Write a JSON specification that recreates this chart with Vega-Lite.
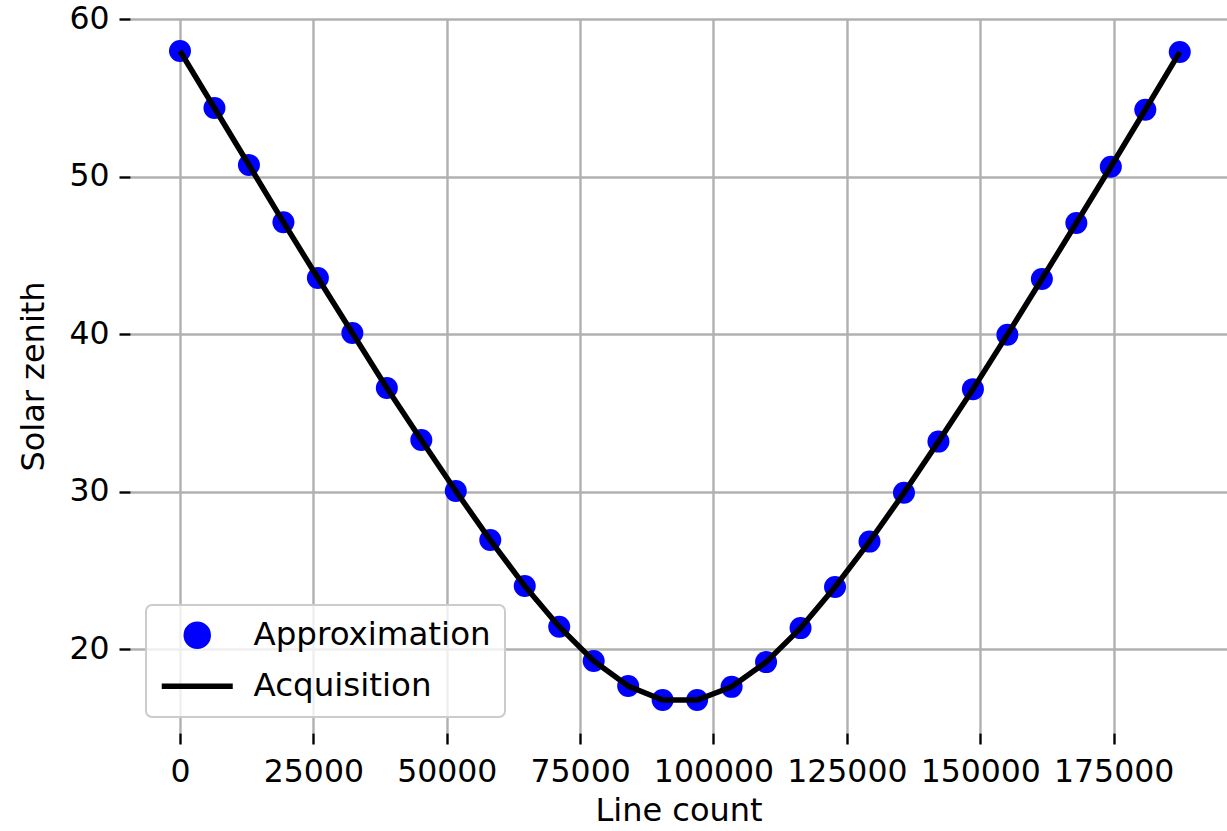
{
  "$schema": "https://vega.github.io/schema/vega-lite/v6.json",
  "width": 1097,
  "height": 714,
  "autosize": {"type": "none"},
  "padding": {"left": 130, "top": 19, "right": 0, "bottom": 98},
  "background": "white",
  "config": {
    "view": {"stroke": null},
    "font": "DejaVu Sans",
    "axis": {
      "domain": false,
      "grid": true,
      "gridColor": "#b0b0b0",
      "gridWidth": 2.4,
      "tickColor": "black",
      "tickWidth": 2.4,
      "tickSize": 11,
      "labelFont": "DejaVu Sans",
      "labelFontSize": 31.5,
      "labelColor": "black",
      "titleFont": "DejaVu Sans",
      "titleFontSize": 32,
      "titleFontWeight": "normal",
      "titleColor": "black"
    },
    "legend": {
      "title": null,
      "orient": "bottom-left",
      "offset": 16,
      "padding": 14,
      "fillColor": "rgba(255,255,255,0.8)",
      "strokeColor": "#cccccc",
      "cornerRadius": 6,
      "labelFont": "DejaVu Sans",
      "labelFontSize": 32.5,
      "labelColor": "black",
      "labelLimit": 500,
      "symbolSize": 484,
      "symbolOffset": 21,
      "labelOffset": 40,
      "rowPadding": 12,
      "symbolOpacity": 1
    }
  },
  "data": {
    "values": [
      {"x": 0, "approx": 57.97, "acq": 57.97},
      {"x": 6462, "approx": 54.35, "acq": 54.35},
      {"x": 12924, "approx": 50.73, "acq": 50.73},
      {"x": 19386, "approx": 47.1, "acq": 47.1},
      {"x": 25848, "approx": 43.56, "acq": 43.56},
      {"x": 32310, "approx": 40.06, "acq": 40.06},
      {"x": 38772, "approx": 36.57, "acq": 36.57},
      {"x": 45234, "approx": 33.27, "acq": 33.27},
      {"x": 51696, "approx": 30.03, "acq": 30.03},
      {"x": 58158, "approx": 26.92, "acq": 26.92},
      {"x": 64620, "approx": 24.0, "acq": 24.0},
      {"x": 71082, "approx": 21.42, "acq": 21.42},
      {"x": 77544, "approx": 19.24, "acq": 19.24},
      {"x": 84006, "approx": 17.65, "acq": 17.65},
      {"x": 90468, "approx": 16.76, "acq": 16.76},
      {"x": 96930, "approx": 16.76, "acq": 16.76},
      {"x": 103392, "approx": 17.6, "acq": 17.6},
      {"x": 109854, "approx": 19.17, "acq": 19.17},
      {"x": 116316, "approx": 21.33, "acq": 21.33},
      {"x": 122778, "approx": 23.94, "acq": 23.94},
      {"x": 129240, "approx": 26.82, "acq": 26.82},
      {"x": 135702, "approx": 29.92, "acq": 29.92},
      {"x": 142164, "approx": 33.17, "acq": 33.17},
      {"x": 148626, "approx": 36.5, "acq": 36.5},
      {"x": 155088, "approx": 39.96, "acq": 39.96},
      {"x": 161550, "approx": 43.49, "acq": 43.49},
      {"x": 168012, "approx": 47.05, "acq": 47.05},
      {"x": 174474, "approx": 50.62, "acq": 50.62},
      {"x": 180936, "approx": 54.24, "acq": 54.24},
      {"x": 187398, "approx": 57.9, "acq": 57.9}
    ]
  },
  "encoding": {
    "x": {
      "field": "x",
      "type": "quantitative",
      "scale": {"domain": [-9370, 196250], "nice": false, "zero": false},
      "axis": {
        "title": "Line count",
        "values": [0, 25000, 50000, 75000, 100000, 125000, 150000, 175000],
        "format": "d",
        "labelPadding": 12,
        "titlePadding": 8
      }
    }
  },
  "layer": [
    {
      "mark": {"type": "point", "filled": true, "size": 484, "opacity": 1},
      "encoding": {
        "y": {
          "field": "approx",
          "type": "quantitative",
          "scale": {"domain": [14.67, 60], "nice": false, "zero": false},
          "axis": {
            "title": "Solar zenith",
            "values": [20, 30, 40, 50, 60],
            "labelPadding": 10,
            "titlePadding": 18
          }
        },
        "color": {
          "datum": "Approximation",
          "type": "nominal",
          "scale": {"domain": ["Approximation", "Acquisition"], "range": ["#0000ff", "#000000"]},
          "legend": {
            "encode": {
              "legend": {"update": {"strokeWidth": {"value": 2}}},
              "symbols": {
                "update": {
                  "shape": {"signal": "datum.value === 'Acquisition' ? 'stroke' : 'circle'"},
                  "size": {"signal": "datum.value === 'Acquisition' ? 5041 : 484"},
                  "fill": {"signal": "datum.value === 'Acquisition' ? 'transparent' : '#0000ff'"},
                  "stroke": {"signal": "datum.value === 'Acquisition' ? '#000000' : 'transparent'"},
                  "strokeWidth": {"value": 5.5},
                  "opacity": {"value": 1}
                }
              }
            }
          }
        }
      }
    },
    {
      "mark": {"type": "line", "strokeWidth": 5.5},
      "encoding": {
        "y": {"field": "acq", "type": "quantitative"},
        "color": {
          "datum": "Acquisition",
          "type": "nominal",
          "legend": {
            "encode": {
              "legend": {"update": {"strokeWidth": {"value": 2}}},
              "symbols": {
                "update": {
                  "shape": {"signal": "datum.value === 'Acquisition' ? 'stroke' : 'circle'"},
                  "size": {"signal": "datum.value === 'Acquisition' ? 5041 : 484"},
                  "fill": {"signal": "datum.value === 'Acquisition' ? 'transparent' : '#0000ff'"},
                  "stroke": {"signal": "datum.value === 'Acquisition' ? '#000000' : 'transparent'"},
                  "strokeWidth": {"value": 5.5},
                  "opacity": {"value": 1}
                }
              }
            }
          }
        }
      }
    }
  ]
}
